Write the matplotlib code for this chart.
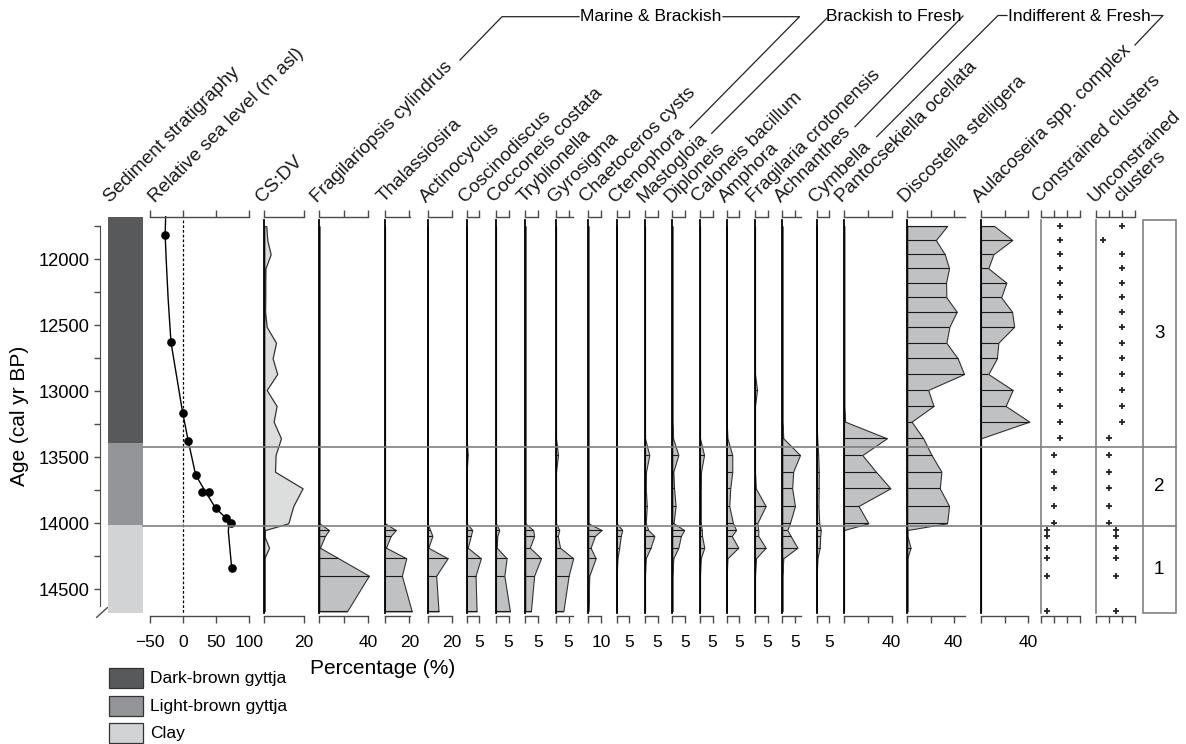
import numpy as np
import matplotlib
matplotlib.use('Agg')
import matplotlib.pyplot as plt
from matplotlib.patches import Rectangle

plt.rcParams['font.family'] = ['Liberation Sans', 'DejaVu Sans']

# ------------------------------------------------------------------ data
ages = [11748, 11854, 11962, 12068, 12177, 12288, 12397, 12511, 12632, 12750,
        12869, 12990, 13111, 13230, 13356, 13483, 13609, 13735, 13869, 14000,
        14051, 14096, 14185, 14265, 14397, 14667]

def z(n):
    return [0.0] * n

cs_dv = [1.0, 1.5, 3.2, 0.6, 0.5, 0.5, 0.4, 1.2, 5.9, 4.2, 6.5, 1.2, 6.2, 4.7, 8.4,
         5.7, 5.4, 19.3, 14.6, 12.1, 0.4, 0.0, 2.4, 0.0, 0.0, 0.0]

fragilariopsis = z(20) + [8.0, 4.7, 0.5, 15.8, 40.8, 22.8]
thalassiosira = z(20) + [8.9, 4.7, 0.8, 17.5, 13.9, 22.0]
actinocyclus = z(20) + [2.0, 3.9, 0.5, 16.4, 7.0, 8.9]
coscinodiscus = z(15) + [0.4, 0, 0, 0, 0] + [2.2, 1.6, 0.4, 5.6, 3.5, 3.9]
cocconeis = z(20) + [1.3, 0.5, 0.3, 4.2, 3.3, 5.5]
tryblionella = z(20) + [3.1, 3.5, 1.8, 6.2, 3.5, 2.2]
gyrosigma = z(15) + [0.8, 0, 0, 0, 0] + [1.3, 0.7, 1.6, 6.8, 5.0, 2.9]
chaetoceros = z(20) + [10.5, 5.2, 1.8, 5.8, 0.8, 0.0]
ctenophora = z(20) + [2.2, 1.6, 1.0, 0.3, 0.0, 0.0]
mastogloia = z(15) + [1.7, 0.4, 0.3, 0.7, 0.3] + [1.3, 3.7, 2.2, 0.3, 0.0, 0.0]
diploneis = z(14) + [0.3, 2.4, 0.4, 0.7, 1.3, 0.5] + [4.7, 3.4, 2.4, 0.4, 0.0, 0.0]
caloneis = z(15) + [1.6, 0.4, 0.3, 0.3, 0.3] + [0.7, 0.8, 1.7, 0.3, 0.0, 0.0]
amphora = z(14) + [0.3, 2.2, 2.2, 1.4, 1.0, 2.5] + [3.7, 2.0, 4.6, 0.3, 0.0, 0.0]
fragilaria = z(11) + [0.8, 0, 0, 0] + [0, 0, 0.3, 4.2, 0.9] + [1.3, 1.3, 4.2, 0.4, 0.0, 0.0]
achnanthes = z(14) + [0.4, 7.0, 4.3, 3.9, 5.0, 3.0] + [2.0, 3.3, 6.0, 0.4, 0.0, 0.0]
cymbella = z(14) + [0.2, 0.6, 0.8, 0.8, 0.7, 1.0] + [1.6, 1.4, 1.2, 0.3, 0.0, 0.0]
pantocsekiella = [0.3] * 13 + [1.0, 36.0, 15.4, 26.8, 39.0, 12.2, 20.5] + z(6)
discostella = [34.3, 24.6, 32.3, 36.0, 33.4, 33.7, 42.6, 36.3, 33.7, 43.4, 48.9,
               18.0, 22.6, 3.7, 13.7, 20.9, 29.4, 28.0, 36.0, 34.3,
               0.0, 0.0, 2.8, 0.0, 0.0, 0.0]
aulacoseira = [11.3, 26.5, 10.5, 6.2, 21.5, 17.1, 26.3, 28.1, 14.7, 13.5, 6.2,
               26.8, 20.9, 41.0] + z(12)

constrained = [3] * 15 + [2] * 5 + [1] * 6
unconstrained = [4, 1] + [4] * 12 + [2] + [2] * 5 + [3] * 6

# relative sea level: dated points and fitted curve
rsl_age = [11816, 12629, 13162, 13377, 13634, 13760, 13760, 13886, 13958, 14000, 14341]
rsl_val = [-27.3, -18.2, -0.5, 8.0, 19.2, 29.3, 39.4, 49.5, 64.7, 72.3, 73.8]
curve_age = [11677, 11816, 12000, 12300, 12629, 13162, 13377, 13634, 13760, 13886,
             13958, 14000, 14063, 14341]
curve_val = [-26.3, -27.0, -25.5, -22.5, -18.2, -0.5, 8.0, 19.2, 34.0, 49.5,
             64.7, 69.5, 68.7, 73.8]

strat_bounds = [11677, 13390, 14012, 14680]
strat_names = ['Dark-brown gyttja', 'Light-brown gyttja', 'Clay']
strat_colors = ['#58595b', '#939598', '#d1d3d4']

zone_bounds = [11700, 13420, 14020, 14680]
zone_names = ['3', '2', '1']

taxa = [
    ('Fragilariopsis cylindrus', fragilariopsis),
    ('Thalassiosira', thalassiosira),
    ('Actinocyclus', actinocyclus),
    ('Coscinodiscus', coscinodiscus),
    ('Cocconeis costata', cocconeis),
    ('Tryblionella', tryblionella),
    ('Gyrosigma', gyrosigma),
    ('Chaetoceros cysts', chaetoceros),
    ('Ctenophora', ctenophora),
    ('Mastogloia', mastogloia),
    ('Diploneis', diploneis),
    ('Caloneis bacillum', caloneis),
    ('Amphora', amphora),
    ('Fragilaria crotonensis', fragilaria),
    ('Achnanthes', achnanthes),
    ('Cymbella', cymbella),
    ('Pantocsekiella ocellata', pantocsekiella),
    ('Discostella stelligera', discostella),
    ('Aulacoseira spp. complex', aulacoseira),
]

# ------------------------------------------------------------------ layout (pixels)
# (x of zero, px per unit, axis max, ticks)
taxa_layout = [
    (319.3, 1.215, 40, [0, 20, 40]),
    (385.0, 1.215, 20.5, [0, 20]),
    (427.7, 1.215, 20, [0, 20]),
    (466.7, 2.53, 5, [0, 5]),
    (496.0, 2.53, 5.2, [0, 5]),
    (525.3, 2.53, 5.1, [0, 5]),
    (556.0, 2.53, 6.8, [0, 5]),
    (588.3, 1.265, 10, [0, 10]),
    (616.7, 2.53, 5, [0, 5]),
    (645.0, 2.53, 5, [0, 5]),
    (672.3, 2.53, 5, [0, 5]),
    (700.0, 2.53, 5, [0, 5]),
    (726.7, 2.53, 5, [0, 5]),
    (755.0, 2.53, 5, [0, 5]),
    (782.3, 2.53, 7.3, [0, 5]),
    (816.7, 2.53, 5, [0, 5]),
    (844.0, 1.19, 40, [0, 20, 40]),
    (907.3, 1.16, 49.7, [0, 20, 40]),
    (981.0, 1.18, 40, [0, 20, 40]),
]

W, H = 1186, 744
AX_TOP, AX_BOT = 216.7, 615.7
AGE_TOP, AGE_BOT = 11677, 14700
CORE_TOP, CORE_BOT = 11700, 14680
FS = 12.5
LFS = 13.7
AXC = '#4a4a4a'
FILL = '#c0c1c2'
EDGE = '#333333'
GRID = '#808080'

fig = plt.figure(figsize=(W / 100, H / 100), dpi=100)


def fx(x):
    return x / W


def fy(y):
    return 1 - y / H


# pixel overlay for decoration
axp = fig.add_axes([0, 0, 1, 1])
axp.set_xlim(0, W)
axp.set_ylim(H, 0)
axp.axis('off')


def add_panel(x0, x1, xlim, ticks=None, labels=None, axis_top=True):
    ax = fig.add_axes([fx(x0), fy(AX_BOT), (x1 - x0) / W, (AX_BOT - AX_TOP) / H])
    ax.set_xlim(*xlim)
    ax.set_ylim(AGE_BOT, AGE_TOP)
    ax.patch.set_visible(False)
    for s in ['left', 'right']:
        ax.spines[s].set_visible(False)
    for s in ['top', 'bottom']:
        ax.spines[s].set_color(AXC)
        ax.spines[s].set_linewidth(1.0)
    ax.spines['top'].set_visible(axis_top)
    ax.set_yticks([])
    if ticks is None:
        ax.set_xticks([])
        ax.spines['bottom'].set_visible(axis_top)
    else:
        ax.set_xticks(ticks)
        ax.set_xticklabels(labels if labels is not None else [''] * len(ticks))
        ax.tick_params(axis='x', top=True, bottom=True, labeltop=False, labelbottom=True,
                       direction='out', length=5, width=1.0, color=AXC,
                       labelsize=12.5, pad=9)
    return ax


def label45(x, text, y=203):
    axp.text(x, y, text, rotation=45, rotation_mode='anchor', ha='left',
             va='baseline', fontsize=LFS, color='#1a1a1a')


# ---- age axis
axa = fig.add_axes([fx(100), fy(AX_BOT), 0.0008, (AX_BOT - AX_TOP) / H])
axa.set_ylim(AGE_BOT, AGE_TOP)
axa.patch.set_visible(False)
for s in ['top', 'right', 'bottom']:
    axa.spines[s].set_visible(False)
axa.spines['left'].set_color(AXC)
axa.spines['left'].set_bounds(11750, 14630)
axa.set_xticks([])
axa.set_yticks([12000, 12500, 13000, 13500, 14000, 14500])
axa.set_yticks(np.arange(11750, 14600, 250), minor=True)
axa.tick_params(axis='y', which='both', length=4.2, width=1.0, color=AXC,
                labelsize=13.2, pad=3)
axp.plot([96.7, 107.3], [617.3, 607.7], color=AXC, lw=1.0)
axp.text(20, 416, 'Age (cal yr BP)', rotation=90, ha='center', va='center', fontsize=15)

# ---- sediment stratigraphy
axs = fig.add_axes([fx(108), fy(AX_BOT), 35 / W, (AX_BOT - AX_TOP) / H])
axs.set_xlim(0, 1)
axs.set_ylim(AGE_BOT, AGE_TOP)
axs.axis('off')
for i in range(3):
    axs.bar(0.5, strat_bounds[i + 1] - strat_bounds[i], bottom=strat_bounds[i],
            width=1.0, color=strat_colors[i], edgecolor='none')
label45(110, 'Sediment stratigraphy')

# legend
for i, (nm, col) in enumerate(zip(strat_names, strat_colors)):
    y0 = 668.3 + i * 27.5
    axp.add_patch(Rectangle((108.5, y0), 34.5, 20, facecolor=col, edgecolor='#333333', lw=0.9))
    axp.text(150.5, y0 + 10.5, nm, ha='left', va='center', fontsize=FS)

# ---- relative sea level
axr = add_panel(150, 249, (-50, 100), [-50, 0, 50, 100], ['\u221250', '0', '50', '100'])
axr.plot([0, 0], [CORE_TOP, CORE_BOT], color='k', lw=0.9, ls=(0, (2.2, 1.6)), clip_on=False)
axr.plot(curve_val, curve_age, color='k', lw=1.0, clip_on=False)
axr.plot(rsl_val, rsl_age, 'o', color='k', ms=5.2, clip_on=False)
label45(155, 'Relative sea level (m asl)')

# ---- CS:DV
axc = add_panel(264.3, 304, (0, 20), [0, 20], ['', '20'])
axc.fill_betweenx(ages, 0, cs_dv, facecolor='#dcdddd', edgecolor=EDGE, lw=0.9, clip_on=False)
axc.plot([0, 0], [CORE_TOP, CORE_BOT], color='k', lw=1.3, clip_on=False)
label45(261.7, 'CS:DV')

# ---- taxa
for (name, vals), (x0, sc, xmax, ticks) in zip(taxa, taxa_layout):
    labs = [''] * (len(ticks) - 1) + [str(ticks[-1])]
    ax = add_panel(x0, x0 + sc * xmax, (0, xmax), ticks, labs)
    v = np.array(vals, dtype=float)
    ax.fill_betweenx(ages, 0, v, facecolor=FILL, edgecolor=EDGE, lw=0.8, clip_on=False)
    nz = v > 0
    ax.hlines(np.array(ages)[nz], 0, v[nz], color='#1a1a1a', lw=0.8, clip_on=False)
    ax.plot([0, 0], [CORE_TOP, CORE_BOT], color='k', lw=1.3, clip_on=False)
    label45(x0 - 1.8, name)

# ---- clusters
for x0, vals, lab in [(1040.7, constrained, 'Constrained clusters'),
                      (1096.0, unconstrained, 'Unconstrained')]:
    ax = add_panel(x0, x0 + 6 * 6.55, (0, 6), [0, 2, 4, 6], ['', '', '', ''])
    ax.plot([0, 0], [CORE_TOP, CORE_BOT], color=GRID, lw=1.2, clip_on=False)
    ax.plot(vals, ages, '+', color='#222222', ms=3.8, mew=1.3, clip_on=False)
    label45(x0 - 1.8, lab)
label45(1120, 'clusters')

# Percentage label
axp.text(383, 668, 'Percentage (%)', ha='center', va='center', fontsize=15)

# ---- zones overlay
axz = fig.add_axes([0, fy(AX_BOT), 1, (AX_BOT - AX_TOP) / H], zorder=20)
axz.set_xlim(0, W)
axz.set_ylim(AGE_BOT, AGE_TOP)
axz.axis('off')
for b in zone_bounds[1:-1]:
    axz.plot([143, 1176], [b, b], color=GRID, lw=1.2)
axz.add_patch(Rectangle((1142.7, zone_bounds[0]), 33.3, zone_bounds[-1] - zone_bounds[0],
                        facecolor='none', edgecolor=GRID, lw=1.2))
for i, nm in enumerate(zone_names):
    axz.text(1159.3, (zone_bounds[i] + zone_bounds[i + 1]) / 2, nm, ha='center',
             va='center', fontsize=13.5)

# ---- ecological group brackets
bk = dict(color='#222222', lw=0.9)
axp.plot([460, 502, 579], [60, 16.7, 16.7], **bk)
axp.text(650.8, 16.7, 'Marine & Brackish', ha='center', va='center', fontsize=FS)
axp.plot([723, 799.5, 690], [16.7, 16.7, 128], **bk)
axp.plot([711.7, 827], [133.3, 18], **bk)
axp.text(893.5, 16.7, 'Brackish to Fresh', ha='center', va='center', fontsize=FS)
axp.plot([963, 855], [16, 126.7], **bk)
axp.plot([876.7, 998, 1007], [136.7, 15.5, 15.5], **bk)
axp.text(1079.5, 16.7, 'Indifferent & Fresh', ha='center', va='center', fontsize=FS)
axp.plot([1151.5, 1163, 1135], [15.5, 15.5, 45], **bk)

fig.savefig('out.png', dpi=100)
